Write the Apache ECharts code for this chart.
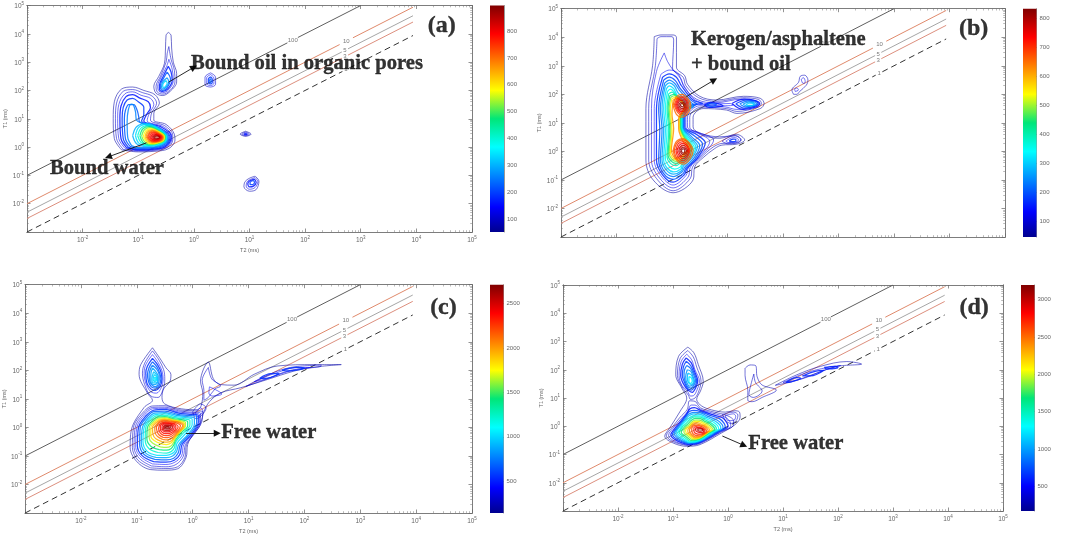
<!DOCTYPE html>
<html><head><meta charset="utf-8">
<style>html,body{margin:0;padding:0;background:#fff}#c{width:1065px;height:535px}</style>
<script src="https://cdn.jsdelivr.net/npm/echarts@6/dist/echarts.min.js"></script>
</head><body><div id="c"></div>
<script>
// Axis tick decades, colour bar ranges and ticks
const barRangeA=[51,896], barTicksA=[100,200,300,400,500,600,700,800];
const barRangeB=[45,833], barTicksB=[100,200,300,400,500,600,700,800];
const barRangeC=[143,2710], barTicksC=[500,1000,1500,2000,2500];
const barRangeD=[169,3197], barTicksD=[500,1000,1500,2000,2500,3000];
const minorDecades=[.001,.01,.1,1,10,100,1000,10000], minorSteps=[2,3,4,5,6,7,8,9];
// T1/T2 reference lines, [T2,T1] in ms, with the gaps left for their labels
const line100=[[[.001,.1],[48,4800]],[[74,7400],[1000,100000]]];
const line10=[[[.001,.01],[417,4170]],[[724,7240],[8700,87000]]];
const line5=[[[.001,.005],[457,2285]],[[590,2950],[8700,43500]]];
const line3=[[[.001,.003],[457,1371]],[[590,1770],[8700,26100]]];
const line1=[[[.001,.001],[468,468]],[[617,617],[8700,8700]]];
const lineNames=['100','10','5','3','1'];
const lineLabelAt=[[60,6000],[550,5500],[520,2600],[520,1560],[540,540]];
// Contours: each row is [level, log10 T2, log10 T1, log10 T2, log10 T1, ...]
const aLobe=[
[70,-1.3,-.1,-1.43,.3,-1.45,1,-1.43,1.6,-1.3,2.05,-1.1,2.12,-.9,2,-.7,1.85,-.62,1.55,-.72,1.2,-.72,.95,-.5,.8,-.35,.45,-.34,.25,-.45,-.05,-.7,-.15,-1,-.17],
[100,-1.27,-.08,-1.39,.3,-1.41,1,-1.39,1.55,-1.27,1.97,-1.1,2.03,-.92,1.92,-.75,1.8,-.67,1.55,-.76,1.2,-.78,.95,-.52,.75,-.38,.42,-.38,.25,-.48,-.02,-.72,-.12,-1,-.14],
[130,-1.24,-.04,-1.35,.3,-1.37,1,-1.35,1.5,-1.24,1.88,-1.1,1.95,-.95,1.83,-.78,1.72,-.72,1.5,-.8,1.2,-.84,.93,-.55,.72,-.4,.4,-.4,.25,-.5,0,-.74,-.1,-1,-.12],
[160,-1.21,-.02,-1.31,.3,-1.33,1,-1.31,1.45,-1.22,1.78,-1.1,1.85,-.97,1.73,-.82,1.6,-.78,1.4,-.85,1.15,-.9,.92,-.58,.7,-.41,.4,-.42,.22,-.53,0,-.76,-.08,-1,-.1],
[190,-1.18,0,-1.27,.3,-1.29,1,-1.27,1.4,-1.2,1.66,-1.1,1.72,-1,1.6,-.9,1.4,-.9,1.15,-.94,.92,-.62,.68,-.43,.38,-.44,.22,-.55,.02,-.78,-.06,-1,-.08],
[220,-1.15,.03,-1.23,.3,-1.25,1,-1.23,1.3,-1.17,1.5,-1.08,1.5,-1.02,1.3,-.99,1.05,-.98,.9,-.66,.66,-.45,.38,-.46,.22,-.57,.04,-.8,-.04,-1,-.05],
[260,-1.12,.05,-1.19,.35,-1.2,.9,-1.18,1.3,-1.13,1.52,-1.09,1.5,-1.05,1.25,-1.03,.95,-.9,.82,-.68,.64,-.47,.37,-.48,.22,-.6,.05,-.82,-.02,-1,-.02]];
const aBlob=[
[300,-1.1,.4,-1.03,.72,-.85,.84,-.62,.66,-.48,.36,-.5,.2,-.62,.06,-.85,.02,-1.03,.12],
[340,-1.05,.4,-.99,.7,-.84,.8,-.63,.64,-.49,.36,-.51,.2,-.63,.08,-.84,.04,-.99,.14],
[400,-1.01,.4,-.95,.67,-.82,.76,-.64,.62,-.5,.36,-.52,.21,-.64,.1,-.82,.06,-.95,.16],
[460,-.97,.4,-.92,.64,-.81,.72,-.65,.6,-.51,.36,-.53,.22,-.65,.12,-.81,.08,-.92,.18],
[520,-.94,.39,-.89,.61,-.79,.69,-.65,.58,-.52,.36,-.54,.22,-.65,.13,-.79,.1,-.89,.2],
[580,-.91,.38,-.86,.59,-.77,.65,-.65,.56,-.53,.36,-.55,.23,-.65,.15,-.77,.12,-.86,.21],
[630,-.88,.37,-.84,.56,-.76,.62,-.65,.54,-.54,.36,-.56,.24,-.65,.17,-.76,.14,-.84,.22],
[670,-.86,.37,-.82,.53,-.75,.59,-.65,.52,-.55,.35,-.57,.25,-.65,.18,-.75,.16,-.82,.24],
[710,-.84,.36,-.8,.51,-.74,.56,-.65,.5,-.56,.35,-.58,.26,-.65,.2,-.74,.18,-.8,.25],
[740,-.82,.36,-.79,.49,-.73,.53,-.65,.48,-.57,.35,-.59,.27,-.65,.21,-.73,.2,-.79,.26],
[765,-.8,.35,-.77,.46,-.72,.5,-.65,.46,-.58,.35,-.6,.28,-.65,.23,-.72,.22,-.77,.27],
[790,-.78,.35,-.75,.44,-.71,.47,-.65,.44,-.59,.35,-.61,.29,-.65,.25,-.71,.24,-.75,.28],
[810,-.76,.35,-.73,.42,-.69,.44,-.65,.42,-.6,.35,-.62,.3,-.65,.27,-.7,.26,-.73,.29],
[830,-.74,.35,-.71,.4,-.68,.42,-.65,.4,-.61,.35,-.63,.31,-.65,.29,-.68,.28,-.71,.3],
[860,-.72,.35,-.69,.38,-.66,.39,-.63,.38,-.62,.35,-.63,.32,-.66,.31,-.69,.32]];
const aColumn=[
[70,-.46,4.05,-.41,3.95,-.4,3.5,-.37,3,-.31,2.6,-.31,2.3,-.42,1.98,-.56,1.82,-.68,1.9,-.72,2.15,-.63,2.5,-.53,2.95,-.51,3.5,-.5,3.95],
[100,-.45,3.55,-.41,3.1,-.35,2.7,-.34,2.3,-.43,2,-.56,1.87,-.66,1.95,-.68,2.15,-.6,2.5,-.5,3,-.48,3.3],
[130,-.45,3.1,-.39,2.75,-.37,2.35,-.45,2.03,-.56,1.92,-.64,2,-.65,2.15,-.58,2.5,-.49,2.85],
[170,-.46,2.85,-.41,2.65,-.39,2.35,-.47,2.05,-.56,1.97,-.62,2.03,-.62,2.18,-.55,2.5],
[220,-.48,2.65,-.42,2.4,-.48,2.1,-.56,2,-.6,2.08,-.6,2.2,-.54,2.45],
[270,-.48,2.45,-.45,2.3,-.5,2.12,-.56,2.05,-.58,2.12,-.56,2.3],
[330,-.5,2.35,-.48,2.25,-.52,2.12,-.55,2.1,-.56,2.2]];
const aIslands=[
[110,.3,2.62,.39,2.47,.39,2.22,.3,2.12,.2,2.2,.2,2.47],
[150,.3,2.56,.36,2.44,.36,2.25,.3,2.17,.23,2.24,.23,2.45],
[190,.3,2.48,.33,2.4,.33,2.28,.3,2.23,.26,2.28,.26,2.4],
[230,.3,2.42,.31,2.35,.3,2.28,.28,2.35],
[70,.93,.56,1.03,.46,.93,.38,.83,.46],
[100,.93,.53,1,.46,.93,.4,.86,.46],
[130,.93,.5,.97,.46,.93,.42,.89,.46],
[160,.93,.48,.95,.46,.93,.44,.91,.46],
[80,1.1,-1.03,1.17,-1.2,1.12,-1.5,1,-1.56,.9,-1.4,.92,-1.22,1,-1.1],
[120,1.1,-1.08,1.15,-1.22,1.1,-1.43,1,-1.49,.94,-1.38,.96,-1.22,1.03,-1.13],
[160,1.09,-1.13,1.12,-1.25,1.07,-1.38,1,-1.41,.97,-1.3,1,-1.2],
[200,1.07,-1.18,1.09,-1.25,1.05,-1.33,1.01,-1.32,1.01,-1.25]];
const bMain=[
[60,-1.32,4.02,-1.2,4.08,-.98,4.08,-.92,4,-.92,2.95,-.77,2.65,-.72,2.35,-.5,1.93,-.2,1.8,.29,1.93,.59,1.86,.66,1.68,.59,1.5,.17,1.33,-.02,1.45,-.44,1.5,-.62,1.2,-.62,.86,-.44,.57,-.14,.46,.16,.6,.31,.4,.16,.25,-.1,.22,-.23,.1,-.44,-.22,-.59,-.54,-.62,-1,-.98,-1.45,-1.34,-1,-1.47,-.3,-1.47,1.5,-1.35,3],
[85,-1.27,3.95,-1.2,4.02,-1,4.02,-.97,3.9,-.99,2.92,-.8,2.6,-.75,2.3,-.52,1.88,-.2,1.75,.27,1.88,.56,1.82,.61,1.68,.55,1.55,.17,1.4,-.02,1.5,-.47,1.55,-.68,1.2,-.68,.85,-.47,.62,-.14,.51,.14,.55,.24,.4,.14,.3,-.1,.28,-.26,.15,-.48,-.22,-.63,-.55,-.67,-.95,-.98,-1.38,-1.28,-.95,-1.42,-.3,-1.42,1.5,-1.3,3],
[110,-1.14,3.45,-1.08,3.15,-.98,2.85,-.84,2.55,-.78,2.25,-.55,1.82,-.22,1.7,.25,1.83,.5,1.78,.56,1.68,.5,1.58,.17,1.47,-.05,1.56,-.5,1.6,-.72,1.2,-.72,.85,-.5,.65,-.25,.4,-.5,-.2,-.67,-.55,-.71,-.9,-.98,-1.28,-1.24,-.9,-1.37,-.3,-1.37,1.5,-1.28,2.8],
[135,-1.2,2.7,-1.05,2.85,-.9,2.75,-.8,2.35,-.58,1.8,-.25,1.66,.05,1.68,.1,1.62,-.1,1.6,-.52,1.65,-.75,1.2,-.75,.85,-.52,.62,-.32,.35,-.52,-.2,-.7,-.55,-.75,-.85,-.98,-1.18,-1.2,-.85,-1.32,-.3,-1.32,1.5],
[165,-1.17,2.6,-1.05,2.72,-.92,2.6,-.83,2.3,-.62,1.8,-.45,1.68,-.62,1.65,-.77,1.2,-.77,.85,-.55,.58,-.4,.3,-.55,-.25,-.73,-.6,-.78,-.82,-.98,-1.08,-1.17,-.82,-1.28,-.3,-1.28,1.5],
[195,-1.15,2.5,-1.05,2.6,-.94,2.48,-.85,2.2,-.65,1.78,-.55,1.66,-.67,1.55,-.79,1.2,-.79,.85,-.6,.55,-.45,.25,-.58,-.25,-.75,-.58,-.8,-.78,-.98,-.98,-1.15,-.78,-1.24,-.3,-1.22,.75,-1.24,1.5],
[230,-1.13,2.4,-1.05,2.5,-.95,2.38,-.87,2.15,-.68,1.75,-.6,1.6,-.71,1.45,-.8,1.2,-.8,.85,-.64,.5,-.5,.2,-.6,-.22,-.77,-.55,-.82,-.72,-.98,-.88,-1.13,-.72,-1.21,-.3,-1.18,.75,-1.21,1.5],
[270,-1.12,2.3,-1.05,2.4,-.96,2.3,-.89,2.05,-.7,1.72,-.63,1.58,-.74,1.42,-.81,1.2,-.81,.85,-.67,.48,-.54,.18,-.63,-.2,-.79,-.5,-.83,-.68,-.97,-.8,-1.1,-.66,-1.18,-.3,-1.15,.75,-1.18,1.5],
[310,-1.1,2.2,-1.05,2.3,-.97,2.2,-.9,1.95,-.72,1.7,-.66,1.57,-.76,1.4,-.82,1.2,-.82,.85,-.69,.46,-.57,.16,-.65,-.18,-.81,-.46,-.84,-.62,-.97,-.72,-1.08,-.6,-1.15,-.3,-1.12,.75,-1.15,1.5],
[350,-1.08,2.1,-1.03,2.18,-.97,2.1,-.9,1.9,-.74,1.68,-.69,1.56,-.78,1.38,-.83,1.2,-.83,.85,-.71,.44,-.6,.14,-.67,-.15,-.82,-.42,-.85,-.55,-.95,-.62,-1.05,-.52,-1.12,-.25,-1.09,.75,-1.12,1.5],
[390,-1.06,2.02,-1,2.08,-.95,2,-.89,1.88,-.76,1.66,-.71,1.56,-.79,1.37,-.84,1.2,-.84,.85,-.73,.42,-.63,.13,-.69,-.12,-.83,-.38,-.93,-.5,-1.03,-.42,-1.09,-.2,-1.06,.75,-1.09,1.5],
[430,-1.04,1.95,-.97,2,-.9,1.88,-.78,1.65,-.73,1.56,-.81,1.36,-.85,1.2,-.85,.85,-.75,.41,-.65,.12,-.71,-.1,-.84,-.33,-.93,-.42,-1.01,-.35,-1.07,-.15,-1.04,.75,-1.07,1.5],
[480,-1.02,1.9,-.95,1.95,-.88,1.85,-.79,1.65,-.75,1.56,-.82,1.35,-.86,1.2,-.86,.85,-.76,.4,-.67,.11,-.73,-.08,-.84,-.28,-.93,-.35,-1,-.28,-1.05,-.1,-1.02,.75,-1.05,1.5],
[550,-1,1.85,-.92,1.9,-.86,1.82,-.8,1.65,-.76,1.56,-.83,1.35,-.87,1.2,-.87,.85,-.78,.38,-.69,.1,-.75,-.06,-.85,-.24,-.93,-.3,-.99,-.22,-1.03,-.06,-1,.75,-1.03,1.5],
[620,-.98,1.8,-.9,1.86,-.82,1.78,-.78,1.56,-.84,1.3,-.88,1.15,-.88,.8,-.8,.35,-.71,.08,-.77,-.05,-.86,-.2,-.93,-.25,-.98,-.15,-1.01,.05,-.97,.8,-1,1.3]];
const bUpperPeak=[
[650,-.98,1.62,-.92,1.92,-.82,2,-.71,1.85,-.66,1.6,-.72,1.33,-.82,1.2,-.92,1.3],
[680,-.96,1.62,-.9,1.88,-.82,1.94,-.73,1.82,-.69,1.6,-.74,1.37,-.82,1.27,-.9,1.37],
[710,-.94,1.62,-.89,1.84,-.82,1.89,-.74,1.79,-.71,1.6,-.75,1.41,-.82,1.33,-.89,1.41],
[740,-.92,1.62,-.88,1.8,-.82,1.84,-.75,1.76,-.73,1.6,-.76,1.45,-.82,1.39,-.88,1.45],
[770,-.9,1.62,-.87,1.75,-.82,1.79,-.77,1.73,-.75,1.6,-.77,1.49,-.82,1.45,-.87,1.49],
[800,-.88,1.62,-.85,1.71,-.82,1.73,-.78,1.69,-.77,1.6,-.78,1.53,-.82,1.5,-.85,1.53],
[825,-.85,1.62,-.83,1.67,-.81,1.67,-.79,1.62,-.81,1.56,-.83,1.57]];
const bLowerPeak=[
[650,-.98,.02,-.92,.35,-.8,.45,-.69,.3,-.62,.02,-.68,-.28,-.8,-.45,-.92,-.3],
[680,-.96,.02,-.91,.3,-.8,.4,-.7,.27,-.65,.02,-.7,-.24,-.8,-.39,-.91,-.25],
[710,-.93,.02,-.89,.26,-.8,.34,-.72,.23,-.68,.02,-.72,-.2,-.8,-.33,-.89,-.21],
[740,-.91,.02,-.87,.21,-.8,.28,-.73,.19,-.7,.02,-.73,-.16,-.8,-.26,-.87,-.16],
[770,-.88,.02,-.85,.16,-.8,.22,-.75,.15,-.72,.02,-.75,-.12,-.8,-.19,-.85,-.12],
[800,-.86,.02,-.83,.11,-.8,.15,-.76,.1,-.74,.02,-.76,-.07,-.8,-.12,-.83,-.07],
[825,-.83,.02,-.82,.07,-.8,.09,-.77,.06,-.77,.02,-.78,-.04,-.8,-.06,-.82,-.03]];
const bTails=[
[140,.08,1.68,.3,1.83,.5,1.78,.58,1.68,.5,1.55,.28,1.47],
[180,.15,1.67,.33,1.8,.5,1.76,.55,1.67,.48,1.58,.3,1.52],
[220,.22,1.66,.36,1.76,.48,1.74,.53,1.66,.46,1.6,.33,1.56],
[260,.28,1.65,.38,1.73,.47,1.71,.5,1.65,.44,1.6,.35,1.59],
[300,.33,1.64,.4,1.69,.46,1.68,.47,1.64,.42,1.61,.37,1.61],
[150,-.42,1.62,-.3,1.72,-.15,1.66,-.08,1.6,-.2,1.56,-.33,1.54],
[200,-.38,1.62,-.3,1.67,-.2,1.63,-.28,1.58],
[90,-.1,.36,.05,.52,.15,.55,.25,.4,.15,.28,0,.27],
[130,-.03,.36,.07,.47,.14,.48,.2,.4,.13,.32,.02,.31],
[170,.03,.37,.1,.43,.15,.42,.15,.36,.08,.34],
[80,1.19,2,1.16,2.15,1.28,2.42,1.31,2.63,1.39,2.67,1.45,2.5,1.42,2.32,1.3,2.1,1.25,2],
[120,1.22,2.1,1.21,2.18,1.25,2.22,1.28,2.15],
[120,1.35,2.4,1.33,2.52,1.37,2.58,1.4,2.45,1.38,2.38]];
const cOuter=[
[200,-.72,2.79,-.58,2.4,-.48,2.09,-.39,1.85,-.41,1.6,-.52,1.35,-.55,1.05,-.5,.82,-.2,.65,.08,.62,.15,.75,.18,1.2,.14,1.62,.28,2.29,.37,1.7,.5,1.5,.74,1.48,1.1,1.86,1.51,2.15,2.17,2.2,2.66,2.2,2.17,2.11,1.81,1.97,1.34,1.68,.86,1.39,.5,1.21,.3,.9,.2,.55,.14,.16,0,-.25,-.09,-.6,-.12,-1.06,-.27,-1.45,-.5,-1.5,-.75,-1.48,-1,-1.2,-1.12,-.7,-1.1,-.1,-.87,.7,-.72,.95,-.81,1.2,-.96,1.86,-.93,2.2]];
const cUpper=[
[300,-.72,2.68,-.6,2.35,-.52,2.02,-.5,1.7,-.52,1.4,-.62,1.05,-.75,1.1,-.86,1.5,-.9,1.9,-.86,2.25],
[420,-.72,2.55,-.62,2.28,-.55,1.98,-.53,1.7,-.56,1.4,-.65,1.2,-.75,1.25,-.84,1.55,-.87,1.9,-.84,2.2],
[540,-.72,2.42,-.63,2.2,-.57,1.95,-.55,1.7,-.58,1.45,-.67,1.3,-.75,1.35,-.82,1.55,-.84,1.9,-.81,2.15],
[660,-.72,2.3,-.64,2.12,-.59,1.9,-.57,1.7,-.6,1.47,-.67,1.38,-.74,1.42,-.79,1.6,-.81,1.85,-.78,2.1],
[760,-.72,2.18,-.65,2.05,-.6,1.85,-.6,1.68,-.62,1.5,-.67,1.43,-.72,1.47,-.77,1.62,-.78,1.85,-.76,2.03],
[860,-.72,2.08,-.66,1.95,-.62,1.8,-.62,1.65,-.65,1.52,-.7,1.5,-.75,1.62,-.75,1.85],
[950,-.7,1.95,-.64,1.82,-.63,1.67,-.66,1.56,-.71,1.56,-.73,1.7],
[1000,-.69,1.85,-.65,1.78,-.65,1.66,-.68,1.6,-.71,1.68],
[1050,-.68,1.76,-.66,1.72,-.67,1.64,-.69,1.68]];
const cBranch=[
[300,.28,2.1,.34,1.7,.5,1.45,.4,1.35,.28,1.05,.2,.95,.2,1.3,.17,1.65],
[420,.3,1.42,.52,1.17,.35,1.1,.29,1.2],
[300,.95,1.43,1.3,1.8,1.75,2.1,2.3,2.18,2.3,2.15,1.75,2,1.3,1.68],
[420,1.1,1.6,1.45,1.88,1.9,2.1,2.1,2.1,1.75,1.98,1.35,1.72],
[550,1.2,1.72,1.4,1.88,1.55,1.88,1.3,1.72],
[550,1.6,2,1.85,2.1,2,2.08,1.75,1.98],
[300,0,.55,.14,.82,.24,.68,.16,.42,.06,.3],
[420,.05,.52,.14,.68,.18,.6,.14,.44,.08,.38]];
const cMain=[
[260,-.75,-1.42,-.48,-1.44,-.27,-1.38,-.14,-1.05,-.11,-.6,.02,-.25,.16,.18,.18,.55,.02,.58,-.25,.62,-.5,.76,-.72,.75,-.9,.5,-1.06,0,-1.08,-.7,-.98,-1.15],
[330,-.74,-1.35,-.48,-1.38,-.3,-1.3,-.17,-1.02,-.13,-.6,.01,-.25,.14,.18,.14,.5,0,.53,-.25,.58,-.5,.71,-.72,.7,-.88,.47,-1.03,0,-1.05,-.7,-.95,-1.1],
[420,-.72,-1.28,-.48,-1.3,-.32,-1.22,-.2,-1,-.16,-.6,-.01,-.25,.12,.18,.12,.45,-.02,.5,-.25,.54,-.5,.67,-.72,.65,-.86,.44,-1,0,-1.02,-.7,-.92,-1.05],
[540,-.7,-1.2,-.48,-1.22,-.33,-1.15,-.23,-.95,-.19,-.6,-.03,-.25,.1,.18,.1,.42,-.05,.46,-.25,.5,-.5,.63,-.7,.6,-.84,.4,-.97,0,-.99,-.65,-.9,-1],
[700,-.68,-1.12,-.47,-1.14,-.34,-1.08,-.26,-.9,-.22,-.6,-.06,-.25,.07,.15,.07,.38,-.08,.42,-.27,.46,-.5,.57,-.7,.55,-.82,.36,-.94,0,-.95,-.6,-.87,-.95],
[860,-.66,-1.05,-.47,-1.06,-.36,-1,-.29,-.85,-.25,-.6,-.09,-.25,.03,.12,.03,.32,-.12,.38,-.28,.42,-.5,.52,-.68,.5,-.8,.32,-.9,0,-.92,-.55,-.84,-.9],
[1020,-.64,-.98,-.47,-.98,-.37,-.92,-.31,-.8,-.28,-.55,-.13,-.22,-.01,.1,-.01,.28,-.15,.34,-.3,.38,-.5,.47,-.67,.45,-.78,.28,-.87,0,-.89,-.5,-.81,-.85],
[1220,-.62,-.88,-.47,-.9,-.38,-.84,-.33,-.72,-.3,-.5,-.17,-.2,-.05,.08,-.05,.24,-.18,.3,-.32,.34,-.5,.42,-.65,.4,-.76,.24,-.84,0,-.85,-.45,-.78,-.75],
[1420,-.6,-.78,-.47,-.8,-.39,-.75,-.34,-.62,-.31,-.45,-.2,-.18,-.09,.06,-.09,.2,-.21,.27,-.33,.3,-.5,.38,-.63,.36,-.74,.2,-.81,0,-.82,-.4,-.75,-.66],
[1620,-.58,-.68,-.47,-.7,-.39,-.65,-.34,-.52,-.31,-.38,-.22,-.15,-.13,.05,-.13,.17,-.24,.24,-.34,.27,-.5,.34,-.62,.32,-.72,.17,-.78,0,-.78,-.35,-.72,-.55],
[1800,-.56,-.58,-.47,-.6,-.39,-.55,-.34,-.42,-.3,-.3,-.2,-.1,-.14,.05,-.15,.15,-.25,.22,-.35,.25,-.5,.31,-.6,.29,-.7,.15,-.75,0,-.75,-.3,-.69,-.46],
[1950,-.55,-.5,-.46,-.52,-.38,-.47,-.32,-.33,-.26,-.2,-.19,-.05,-.16,.05,-.17,.13,-.27,.2,-.36,.23,-.5,.28,-.59,.26,-.68,.12,-.72,0,-.71,-.25,-.66,-.4],
[2080,-.54,-.42,-.45,-.44,-.37,-.38,-.31,-.26,-.25,-.13,-.2,-.02,-.18,.06,-.2,.12,-.3,.2,-.38,.22,-.5,.25,-.58,.23,-.65,.1,-.68,0,-.67,-.2,-.63,-.32],
[2190,-.53,-.35,-.45,-.36,-.37,-.3,-.31,-.2,-.26,-.1,-.23,0,-.22,.07,-.3,.16,-.38,.19,-.5,.22,-.58,.19,-.63,.08,-.65,0,-.63,-.18,-.6,-.27],
[2280,-.52,-.28,-.45,-.29,-.38,-.24,-.32,-.15,-.28,-.06,-.26,.02,-.31,.12,-.38,.16,-.5,.18,-.57,.15,-.6,.05,-.61,-.05,-.58,-.2],
[2360,-.51,-.22,-.44,-.22,-.37,-.17,-.32,-.1,-.3,.01,-.33,.1,-.39,.14,-.5,.15,-.55,.12,-.58,.03,-.57,-.12],
[2430,-.5,-.16,-.44,-.16,-.38,-.12,-.34,-.05,-.33,.02,-.36,.08,-.42,.12,-.5,.12,-.54,.08,-.55,0,-.54,-.09],
[2500,-.5,-.11,-.44,-.11,-.39,-.07,-.36,0,-.37,.05,-.43,.09,-.5,.09,-.52,.04,-.53,-.03],
[2570,-.49,-.06,-.44,-.06,-.4,-.02,-.39,.02,-.44,.06,-.49,.06,-.51,0],
[2650,-.48,-.03,-.44,-.03,-.42,0,-.44,.03,-.48,.03,-.49,0]];
const dOuter=[
[220,-.73,2.8,-.62,2.6,-.54,2.18,-.45,1.59,-.5,1.25,-.57,.95,-.48,.72,-.3,.58,-.05,.5,.12,.55,.21,.5,.22,.32,.13,.06,-.12,-.24,-.51,-.65,-.75,-.71,-1,-.59,-1.15,-.35,-1.06,-.06,-.87,.53,-.75,1,-.84,1.35,-.95,1.82,-.9,2.47]];
const dUpper=[
[320,-.73,2.68,-.63,2.45,-.57,2.1,-.49,1.6,-.53,1.25,-.6,1,-.68,.95,-.72,1.1,-.82,1.35,-.92,1.8,-.87,2.4],
[450,-.75,2.55,-.66,2.35,-.6,2,-.52,1.6,-.56,1.3,-.63,1.08,-.68,1.07,-.74,1.25,-.84,1.45,-.89,1.8,-.85,2.3],
[580,-.76,2.42,-.67,2.25,-.61,1.95,-.55,1.6,-.59,1.35,-.65,1.2,-.72,1.27,-.81,1.5,-.86,1.8,-.83,2.2],
[710,-.76,2.3,-.68,2.15,-.62,1.9,-.57,1.6,-.61,1.38,-.67,1.28,-.73,1.33,-.79,1.55,-.83,1.8,-.81,2.1],
[840,-.75,2.15,-.68,2.05,-.63,1.85,-.59,1.6,-.63,1.42,-.68,1.35,-.74,1.42,-.78,1.6,-.8,1.8,-.79,2],
[970,-.74,2,-.68,1.95,-.64,1.78,-.61,1.58,-.65,1.45,-.7,1.42,-.75,1.55,-.77,1.75],
[1100,-.73,1.88,-.67,1.82,-.64,1.7,-.63,1.55,-.67,1.48,-.72,1.55,-.74,1.72],
[1250,-.71,1.76,-.67,1.72,-.65,1.6,-.68,1.52,-.71,1.58]];
const dMain=[
[300,-.75,-.68,-.52,-.62,-.14,-.22,.1,.05,.1,.2,-.02,.38,-.25,.5,-.5,.65,-.6,.88,-.7,.9,-.74,.6,-.88,.3,-1.02,-.05,-1.12,-.33,-.98,-.56],
[420,-.75,-.66,-.52,-.6,-.15,-.21,.05,.02,.04,.15,-.05,.32,-.27,.46,-.5,.6,-.6,.75,-.67,.75,-.74,.5,-.86,.25,-1,-.07,-1.08,-.32,-.96,-.54],
[560,-.74,-.64,-.52,-.58,-.17,-.2,0,0,-.02,.12,-.1,.3,-.3,.42,-.5,.56,-.61,.66,-.69,.62,-.76,.42,-.85,.2,-.97,-.08,-1.04,-.3,-.94,-.5],
[720,-.73,-.62,-.52,-.56,-.19,-.2,-.05,-.03,-.07,.1,-.15,.26,-.32,.38,-.5,.52,-.62,.56,-.7,.52,-.77,.35,-.85,.15,-.95,-.1,-1.01,-.28,-.92,-.47],
[900,-.73,-.6,-.52,-.54,-.21,-.2,-.09,-.05,-.11,.07,-.2,.22,-.35,.34,-.5,.47,-.62,.49,-.71,.43,-.78,.28,-.85,.1,-.93,-.1,-.98,-.26,-.9,-.44],
[1100,-.72,-.58,-.52,-.52,-.24,-.2,-.13,-.07,-.15,.05,-.23,.18,-.37,.3,-.5,.42,-.62,.44,-.71,.37,-.78,.22,-.85,.05,-.91,-.1,-.95,-.25,-.88,-.41],
[1300,-.71,-.56,-.52,-.5,-.27,-.2,-.17,-.09,-.19,.02,-.27,.15,-.39,.26,-.5,.37,-.62,.38,-.7,.3,-.78,.15,-.84,.02,-.88,-.12,-.92,-.24,-.85,-.38],
[1500,-.7,-.53,-.52,-.47,-.3,-.2,-.21,-.1,-.23,0,-.31,.12,-.41,.22,-.5,.32,-.61,.33,-.69,.25,-.76,.1,-.82,0,-.86,-.12,-.89,-.22,-.82,-.35],
[1700,-.68,-.5,-.52,-.45,-.32,-.2,-.24,-.11,-.27,-.01,-.34,.1,-.43,.18,-.5,.27,-.6,.28,-.67,.2,-.74,.06,-.79,-.02,-.83,-.12,-.85,-.22,-.79,-.33],
[1900,-.66,-.47,-.52,-.43,-.34,-.2,-.27,-.12,-.3,-.03,-.37,.07,-.45,.15,-.52,.22,-.6,.22,-.66,.15,-.72,.03,-.77,-.04,-.8,-.13,-.8,-.22,-.75,-.31],
[2100,-.64,-.44,-.52,-.41,-.36,-.21,-.3,-.13,-.33,-.04,-.4,.05,-.47,.12,-.54,.17,-.6,.17,-.66,.1,-.7,0,-.75,-.07,-.77,-.15,-.76,-.23,-.71,-.31],
[2300,-.62,-.41,-.5,-.38,-.38,-.22,-.33,-.15,-.36,-.05,-.43,.03,-.5,.09,-.56,.13,-.62,.12,-.67,.04,-.7,-.04,-.73,-.12,-.73,-.2,-.68,-.31],
[2450,-.6,-.38,-.5,-.35,-.4,-.24,-.36,-.16,-.39,-.06,-.45,.01,-.52,.06,-.58,.08,-.63,.05,-.67,-.03,-.7,-.12,-.69,-.22,-.65,-.31],
[2600,-.58,-.33,-.49,-.31,-.42,-.25,-.39,-.17,-.42,-.08,-.48,-.01,-.55,.03,-.6,.03,-.65,-.03,-.66,-.12,-.65,-.22,-.62,-.29],
[2750,-.55,-.28,-.48,-.27,-.43,-.22,-.42,-.15,-.46,-.07,-.52,-.03,-.58,-.01,-.62,-.05,-.62,-.15,-.6,-.24],
[2900,-.53,-.22,-.47,-.22,-.44,-.17,-.45,-.11,-.5,-.07,-.56,-.05,-.59,-.09,-.58,-.17],
[3050,-.51,-.17,-.47,-.16,-.46,-.12,-.49,-.09,-.53,-.09,-.55,-.12,-.54,-.16]];
const dBranch=[
[340,-.1,.42,.1,.5,.18,.4,.15,.2,.05,.1,-.05,.22],
[420,-.05,.38,.1,.44,.14,.35,.1,.2,0,.2],
[300,.31,2.05,.4,2.17,.5,2.15,.53,1.75,.62,1.46,.88,1.28,.62,1.02,.44,.87,.36,.92,.36,1.28,.31,1.8],
[340,.47,1.85,.5,1.55,.62,1.25,.46,1.02,.38,1.12,.42,1.5],
[280,.86,1.45,1.25,1.82,1.68,2.12,2.16,2.29,2.43,2.2,1.98,2.12,1.61,1.88,1.19,1.59],
[420,1,1.55,1.4,1.88,1.8,2.08,2.05,2.15,1.75,1.98,1.35,1.68],
[600,1.35,1.78,1.6,1.95,1.75,1.98,1.5,1.78],
[600,1.75,2.08,1.95,2.12,2,2.08,1.8,2.03],
[600,1.05,1.55,1.25,1.72,1.32,1.7,1.15,1.57]];
// Annotations: [text, T2, T1]
const notesA=[['Bound oil in organic pores',.89,1000],['Bound water',.0026,.21]];
const arrowsA=[[[.35,195],[1,660]],[[.14,1.41],[.029,.45]]];
const notesB=[['Kerogen/asphaltene',.219,9550],['+ bound oil',.219,1259]];
const arrowsB=[[[.182,83],[.575,316]]];
const notesC=[['Free water',3.24,.74]];
const arrowsC=[[[.76,.62],[2.75,.62]]];
const notesD=[['Free water',2.34,.28]];
const arrowsD=[[[.79,.45],[1.95,.21]]];
const letters=[['(a)',16000,21900],['(b)',14800,22400],['(c)',17800,17800],['(d)',16200,17400]];

const panels=[
 {rect:[27,5.5,445,226.5],bar:[490,5.5,14,226.5],range:barRangeA,ticks:barTicksA,rings:[aLobe,aBlob,aColumn,aIslands],notes:notesA,arrows:arrowsA,xl:true,yGap:14},
 {rect:[561,8.7,444,228.3],bar:[1023,8.7,13.5,228.3],range:barRangeB,ticks:barTicksB,rings:[bMain,bUpperPeak,bLowerPeak,bTails],notes:notesB,arrows:arrowsB,xl:false,yGap:14},
 {rect:[24,284.7,448,228.3],bar:[490,284.7,13.5,228.3],range:barRangeC,ticks:barTicksC,rings:[cOuter,cUpper,cBranch,cMain],notes:notesC,arrows:arrowsC,xl:true,yGap:16},
 {rect:[563,285,440,226],bar:[1021,285,13.5,226],range:barRangeD,ticks:barTicksD,rings:[dOuter,dUpper,dMain,dBranch],notes:notesD,arrows:arrowsD,xl:true,yGap:14}
];
const jetStops=[[0,[0,0,143]],[.11,[0,0,255]],[.375,[0,255,255]],[.5,[0,230,120]],[.625,[255,255,0]],[.875,[255,0,0]],[1,[128,0,0]]];
function jet(t){t=Math.max(0,Math.min(1,t));for(let i=1;i<jetStops.length;i++){const a=jetStops[i-1],b=jetStops[i];if(t<=b[0]){const f=(t-a[0])/(b[0]-a[0]);return 'rgb('+a[1].map((v,k)=>Math.round(v+(b[1][k]-v)*f)).join(',')+')';}}return 'rgb(128,0,0)';}
const grey='#7d7d7d', txt='#666';
const lab=v=>{const e=Math.round(Math.log10(v));return e===-3?'':'{a|10}{b|'+e+'}';};
const rich={a:{fontSize:6.5,color:txt,fontFamily:'Liberation Sans',lineHeight:9,verticalAlign:'bottom'},b:{fontSize:4.5,color:txt,fontFamily:'Liberation Sans',lineHeight:9,verticalAlign:'top'}};
const minorValues=[];minorDecades.forEach(d=>minorSteps.forEach(s=>minorValues.push(d*s)));
const grid=[],xAxis=[],yAxis=[],series=[];
const logAxis=o=>Object.assign({type:'log',logBase:10,min:.001,max:100000,interval:1,splitLine:{show:false},
  axisLine:{show:true,onZero:false,lineStyle:{color:grey,width:1}},axisTick:{show:true,inside:true,length:3.5,lineStyle:{color:'#666',width:.7}}},o);
const minorAxis=o=>logAxis(Object.assign({axisLabel:{show:false},axisTick:{show:true,inside:true,length:1.8,customValues:minorValues,lineStyle:{color:'#777',width:.5}}},o));
panels.forEach((p,i)=>{
 grid.push({left:p.rect[0],top:p.rect[1],width:p.rect[2],height:p.rect[3],containLabel:false});
 xAxis.push(logAxis({gridIndex:i,position:'bottom',name:p.xl?'T2 (ms)':'',nameLocation:'middle',nameGap:15,nameTextStyle:{fontSize:5.5,color:txt,fontFamily:'Liberation Sans'},
   axisLabel:{show:p.xl,formatter:lab,rich,margin:3,hideOverlap:false}}));
 xAxis.push(logAxis({gridIndex:i,position:'top',axisLabel:{show:false}}));
 yAxis.push(logAxis({gridIndex:i,position:'left',name:'T1 (ms)',nameLocation:'middle',nameGap:p.yGap,nameTextStyle:{fontSize:5.5,color:txt,fontFamily:'Liberation Sans'},
   axisLabel:{formatter:lab,rich,margin:3,hideOverlap:false}}));
 yAxis.push(logAxis({gridIndex:i,position:'right',axisLabel:{show:false}}));
});
panels.forEach((p,i)=>{
 grid.push({left:p.bar[0],top:p.bar[1],width:p.bar[2],height:p.bar[3]});
 xAxis.push({type:'category',gridIndex:4+i,data:[''],show:false});
 yAxis.push({type:'value',gridIndex:4+i,position:'right',min:p.range[0],max:p.range[1],splitLine:{show:false},
   axisLine:{show:true,onZero:false,lineStyle:{color:grey,width:.8}},
   axisTick:{show:true,inside:true,length:2,customValues:p.ticks,lineStyle:{color:'#555',width:.6}},
   axisLabel:{fontSize:6,color:txt,margin:3,fontFamily:'Liberation Sans',customValues:p.ticks,formatter:v=>String(v)}});
 const stops=jetStops.map(s=>({offset:1-s[0],color:'rgb('+s[1].join(',')+')'}));
 series.push({type:'bar',xAxisIndex:8+i,yAxisIndex:8+i,data:[p.range[1]],barWidth:'100%',silent:true,
   itemStyle:{color:{type:'linear',x:0,y:0,x2:0,y2:1,colorStops:stops.slice().reverse()}}});
});
panels.forEach((p,i)=>{
 xAxis.push(minorAxis({gridIndex:i,position:'bottom'}));
 xAxis.push(minorAxis({gridIndex:i,position:'top'}));
 yAxis.push(minorAxis({gridIndex:i,position:'left'}));
 yAxis.push(minorAxis({gridIndex:i,position:'right'}));
});
const refLines=[[line100,'#5f5f5f',0],[line10,'#e08a6c',0],[line5,'#a6a6a6',0],[line3,'#dd8f7e',0],[line1,'#333',[6,4]]];
panels.forEach((p,i)=>{
 const xi=2*i,yi=2*i;
 refLines.forEach(([segs,color,dash])=>segs.forEach(data=>series.push({type:'line',xAxisIndex:xi,yAxisIndex:yi,data,symbol:'none',silent:true,z:2,
   lineStyle:{color,width:1,type:dash||'solid'}})));
 series.push({type:'scatter',xAxisIndex:xi,yAxisIndex:yi,symbolSize:0,silent:true,z:3,
   data:lineLabelAt.map((d,k)=>({value:d,label:{show:true,position:'inside',formatter:lineNames[k],fontSize:6,color:'#555',fontFamily:'Liberation Sans'}}))});
 p.rings.forEach(group=>group.forEach(row=>{
   const pts=[];for(let k=1;k<row.length;k+=2)pts.push([10**row[k],10**row[k+1]]);pts.push(pts[0]);
   const t=(row[0]-p.range[0])/(p.range[1]-p.range[0]);
   series.push({type:'line',xAxisIndex:xi,yAxisIndex:yi,data:pts,smooth:.35,symbol:'none',silent:true,z:4,
     lineStyle:{color:jet(t),width:t<.12?.9:1.25,opacity:t<.12?.62:.85}});
 }));
 series.push({type:'line',xAxisIndex:xi,yAxisIndex:yi,data:[],symbol:'none',silent:true,z:5,
   markLine:{silent:true,animation:false,symbol:['none','triangle'],symbolSize:7,label:{show:false},lineStyle:{color:'#111',width:.9,type:'solid'},
     data:p.arrows.map(a=>[{coord:a[0]},{coord:a[1]}])}});
 series.push({type:'scatter',xAxisIndex:xi,yAxisIndex:yi,symbolSize:0,silent:true,z:6,
   data:p.notes.map(n=>({value:[n[1],n[2]],label:{show:true,position:'right',distance:0,offset:[0,2],formatter:n[0],fontSize:20.6,fontWeight:'bold',color:'#000',textBorderColor:'#000',textBorderWidth:.35,fontFamily:'Liberation Serif'}}))});
 const L=letters[i];
 series.push({type:'scatter',xAxisIndex:xi,yAxisIndex:yi,symbolSize:0,silent:true,z:6,
   data:[{value:[L[1],L[2]],label:{show:true,position:'right',distance:0,offset:[0,1.5],formatter:L[0],fontSize:24,fontWeight:'bold',color:'#000',textBorderColor:'#000',textBorderWidth:.35,fontFamily:'Liberation Serif'}}]});
});
const chart=echarts.init(document.getElementById('c'),null,{renderer:'canvas'});
chart.setOption({animation:false,backgroundColor:'#fff',grid,xAxis,yAxis,series});
</script></body></html>
